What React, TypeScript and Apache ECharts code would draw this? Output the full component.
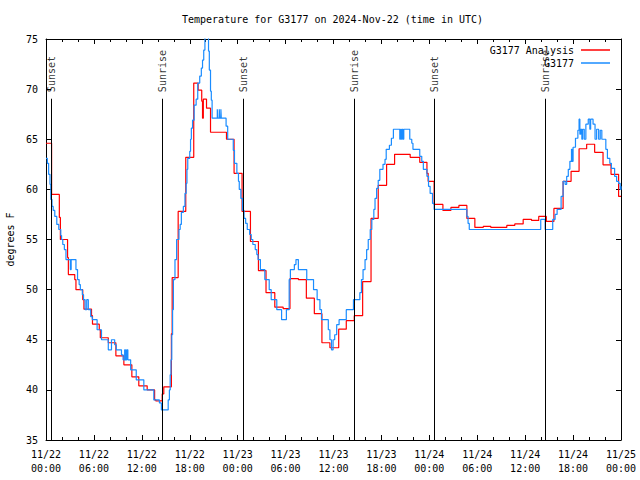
import React, { useEffect, useRef } from "react";
import * as echarts from "echarts";

// hours since 2024-11-22 00:00 UTC, value in degrees F (value holds from that hour)
const analysisSeries: [number, number][] = [
  [0, 64.6], [0.7, 59.5], [1.67, 57.2], [1.8, 55.0], [2.7, 53.2], [2.8, 51.5],
  [3.6, 51.0], [3.75, 50.0], [4.6, 49.0], [4.75, 48.05], [5.7, 47.4], [5.82, 46.55],
  [6.67, 46.0], [6.8, 45.2], [7.8, 44.7], [8.75, 43.4], [9.75, 42.5], [10.75, 41.3],
  [11.62, 40.4], [12.67, 40.0], [13.6, 39.0], [13.75, 38.9], [14.55, 39.6], [14.75, 40.3],
  [15.7, 45.6], [15.8, 51.2], [16.55, 57.8], [17.5, 63.2], [18.5, 70.6], [19.05, 69.9],
  [19.5, 68.8], [19.6, 67.1], [19.7, 69.0], [20.1, 68.1], [20.6, 65.7], [22.6, 65.0],
  [23.55, 61.6], [24.55, 57.8], [25.6, 54.8], [26.6, 51.9], [27.55, 49.7], [28.65, 48.25],
  [29.7, 48.1], [30.55, 51.1], [31.6, 51.0], [32.6, 49.15], [33.6, 47.6], [34.55, 44.7],
  [35.55, 44.2], [36.65, 46.05], [37.6, 46.9], [38.6, 47.4], [39.65, 50.8], [40.7, 57.1],
  [41.6, 60.4], [42.65, 62.5], [43.65, 63.5], [45.6, 63.2], [46.8, 62.7], [47.7, 61.6],
  [47.85, 60.8], [48.6, 58.5], [49.7, 57.9], [50.7, 58.2], [51.7, 58.4], [52.7, 57.1],
  [53.7, 56.2], [54.75, 56.3], [55.7, 56.2], [57.7, 56.4], [58.7, 56.55], [59.75, 57.0],
  [60.8, 56.9], [61.7, 57.3], [62.65, 56.8], [63.6, 58.1], [64.75, 60.8], [65.75, 61.8],
  [66.75, 64.05], [67.7, 64.5], [68.7, 63.7], [69.75, 62.45], [70.75, 61.5], [71.7, 59.3],
  [72, 59.3],
];

const stationSeries: [number, number][] = [
  [0, 63.1], [0.17, 62.6], [0.33, 61.5], [0.5, 60.5], [0.6, 59.0], [0.75, 58.3],
  [0.9, 57.9], [1.1, 57.3], [1.35, 56.5], [1.6, 56.0], [1.85, 55.4], [1.95, 55.0],
  [2.1, 54.5], [2.3, 54.0], [2.5, 53.0], [3.05, 52.0], [3.15, 53.0], [3.75, 52.0],
  [3.95, 51.0], [4.15, 50.5], [4.3, 50.0], [4.55, 49.5], [4.7, 49.0], [4.9, 48.0],
  [5.1, 49.0], [5.3, 48.0], [5.6, 47.3], [5.8, 47.0], [6.4, 46.0], [6.95, 45.0],
  [7.8, 44.0], [8.2, 45.0], [8.6, 44.5], [8.8, 44.0], [9.45, 43.5], [9.65, 43.0],
  [9.85, 44.0], [9.95, 43.0], [10.1, 44.0], [10.25, 43.0], [10.6, 42.0], [11.3, 41.0],
  [12.25, 40.0], [13.5, 39.0], [14.2, 38.7], [14.45, 38.0], [15.3, 39.0], [15.45, 40.0],
  [15.55, 41.5], [15.65, 43.0], [15.75, 45.5], [15.85, 48.0], [15.95, 51.0], [16.15, 53.0],
  [16.35, 55.0], [16.65, 56.0], [16.8, 56.5], [16.95, 57.7], [17.2, 58.3], [17.4, 59.6],
  [17.55, 60.6], [17.65, 62.0], [17.75, 63.1], [18.0, 63.8], [18.1, 65.0], [18.2, 66.1],
  [18.35, 66.9], [18.55, 68.4], [18.8, 69.0], [19.0, 70.6], [19.25, 71.3], [19.45, 72.1],
  [19.6, 72.9], [19.75, 73.9], [19.9, 75.5], [20.35, 73.8], [20.45, 71.9], [20.6, 69.8],
  [20.7, 68.9], [20.8, 67.1], [21.45, 68.0], [21.5, 67.1], [21.7, 68.0], [21.75, 67.1],
  [21.9, 68.0], [21.95, 67.1], [22.55, 66.3], [22.75, 65.0], [23.45, 63.9], [23.6, 62.6],
  [23.9, 61.6], [24.1, 60.8], [24.2, 60.0], [24.4, 59.1], [24.6, 57.9], [24.8, 57.1],
  [25.0, 56.6], [25.2, 56.0], [25.5, 55.5], [25.7, 55.0], [25.9, 54.5], [26.2, 54.0],
  [26.4, 53.5], [26.55, 53.0], [26.85, 52.0], [27.4, 51.0], [27.95, 50.0], [28.2, 49.0],
  [28.9, 48.0], [29.5, 47.0], [30.1, 48.0], [30.45, 51.0], [30.6, 52.0], [31.1, 52.5],
  [31.3, 53.0], [31.6, 52.0], [32.65, 51.0], [33.5, 50.0], [33.95, 49.0], [34.3, 48.0],
  [34.5, 47.0], [35.35, 46.0], [35.55, 45.0], [35.75, 44.0], [35.95, 45.0], [36.15, 45.5],
  [36.4, 46.5], [36.7, 47.0], [37.6, 48.0], [38.5, 49.0], [39.3, 49.7], [39.5, 51.0],
  [39.7, 52.0], [39.95, 53.0], [40.15, 54.0], [40.35, 55.0], [40.6, 56.0], [40.8, 57.0],
  [41.05, 58.0], [41.2, 59.1], [41.4, 60.1], [41.6, 60.9], [41.8, 62.0], [42.2, 62.5],
  [42.45, 63.0], [42.6, 64.0], [43.0, 64.4], [43.25, 65.1], [43.5, 66.0], [44.3, 65.0],
  [44.4, 66.0], [44.5, 65.0], [44.6, 66.0], [44.7, 65.0], [44.8, 66.0], [45.55, 65.0],
  [45.8, 64.6], [45.95, 64.0], [46.8, 63.3], [47.05, 62.8], [47.25, 62.0], [47.7, 61.3],
  [47.9, 60.3], [48.1, 59.6], [48.4, 58.6], [48.6, 58.0], [52.7, 57.3], [52.85, 56.6],
  [53.0, 56.0], [61.95, 57.0], [62.5, 56.0], [63.45, 57.0], [63.75, 57.5], [64.0, 58.0],
  [64.5, 59.3], [64.75, 60.8], [65.0, 60.5], [65.2, 61.3], [65.4, 62.0], [65.6, 62.8],
  [65.8, 64.0], [65.9, 62.8], [66.0, 64.2], [66.3, 65.1], [66.6, 65.9], [66.75, 67.0],
  [66.85, 65.5], [66.95, 66.0], [67.1, 65.0], [67.2, 66.0], [67.4, 65.0], [67.6, 66.5],
  [67.9, 67.0], [68.1, 66.0], [68.2, 67.0], [68.5, 66.5], [68.75, 65.0], [68.95, 66.0],
  [69.2, 65.0], [69.4, 65.9], [69.6, 65.0], [70.1, 64.0], [70.3, 63.1], [70.6, 62.6],
  [70.8, 62.1], [71.2, 61.3], [71.45, 60.8], [71.7, 60.6], [71.9, 60.0], [72, 60.3],
];

const sunNames: string[] = ["Sunset", "Sunrise", "Sunset", "Sunrise", "Sunset", "Sunrise"];
const sunHours: number[] = [0.66, 14.56, 24.68, 38.6, 48.6, 62.5];

const seriesNames = ["G3177 Analysis", "G3177"];

const FONT = "DejaVu Sans Mono";
const SUN_LINE_TOP = 69.04;
const SUN_LABEL_BASE = 69.7;

function xLabel(v: number): string {
  const day = 22 + Math.floor(v / 24 + 1e-9);
  const hr = Math.round(v - (day - 22) * 24);
  return `11/${day}\n${String(hr).padStart(2, "0")}:00`;
}

export default function App() {
  const ref = useRef<HTMLDivElement>(null);
  useEffect(() => {
    if (!ref.current) return;
    const chart = echarts.init(ref.current, null, { renderer: "svg" });
    const axisCommon = {
      axisLine: { show: true, onZero: false, lineStyle: { color: "#000", width: 1 } },
      axisTick: { show: true, inside: true, length: 5, lineStyle: { color: "#000", width: 1 } },
      splitLine: { show: false },
    };
    const xCommon = {
      ...axisCommon,
      type: "value",
      min: 0,
      max: 72,
      interval: 6,
      minorTick: { show: true, splitNumber: 3, length: 3, lineStyle: { color: "#000", width: 1 } },
    };
    const yCommon = { ...axisCommon, type: "value", min: 35, max: 75, interval: 5 };
    const legendCommon = {
      right: 30,
      padding: 0,
      align: "right",
      icon: "rect",
      itemWidth: 29,
      itemHeight: 1.5,
      itemGap: 0,
      selectedMode: false,
      textStyle: { fontFamily: FONT, fontSize: 10, color: "#000", padding: [0, 2, 0, 0] },
    };
    const option: any = {
      animation: false,
      backgroundColor: "#fff",
      title: {
        text: "Temperature for G3177 on 2024-Nov-22 (time in UTC)",
        left: 182,
        top: 14,
        padding: 0,
        textStyle: { fontFamily: FONT, fontSize: 10, fontWeight: "normal", color: "#000" },
      },
      legend: [
        { ...legendCommon, data: [seriesNames[0]], top: 45 },
        { ...legendCommon, data: [seriesNames[1]], top: 58 },
      ],
      grid: { left: 46, right: 19, top: 39, bottom: 40, containLabel: false, outerBoundsMode: "none" },
      xAxis: [
        {
          ...xCommon,
          position: "bottom",
          axisLabel: {
            formatter: xLabel,
            fontFamily: FONT,
            fontSize: 10,
            color: "#000",
            margin: 7,
            lineHeight: 14,
          },
        },
        { ...xCommon, position: "top", axisLabel: { show: false } },
      ],
      yAxis: [
        {
          ...yCommon,
          position: "left",
          name: "degrees F",
          nameLocation: "middle",
          nameGap: 30,
          nameTextStyle: { fontFamily: FONT, fontSize: 10, color: "#000" },
          axisLabel: { fontFamily: FONT, fontSize: 10, color: "#000", margin: 8 },
        },
        { ...yCommon, position: "right", axisLabel: { show: false } },
      ],
      series: [
        {
          name: "sun",
          type: "scatter",
          xAxisIndex: 0,
          yAxisIndex: 0,
          symbolSize: 1,
          silent: true,
          itemStyle: { color: "rgba(0,0,0,0)" },
          data: sunHours.map((h, i) => ({ value: [h, SUN_LABEL_BASE], name: sunNames[i] })),
          label: {
            show: true,
            formatter: "{b}",
            position: "inside",
            rotate: 90,
            align: "left",
            verticalAlign: "middle",
            fontFamily: FONT,
            fontSize: 10,
            color: "#000",
          },
          markLine: {
            silent: true,
            symbol: "none",
            label: { show: false },
            lineStyle: { color: "#000", type: "solid", width: 1 },
            data: sunHours.map((h) => [{ coord: [h, 35] }, { coord: [h, SUN_LINE_TOP] }]),
          },
        },
        {
          name: seriesNames[0],
          type: "line",
          step: "end",
          symbol: "none",
          color: "#ff0000",
          lineStyle: { color: "#ff0000", width: 1.2 },
          data: analysisSeries,
        },
        {
          name: seriesNames[1],
          type: "line",
          step: "end",
          symbol: "none",
          color: "#1a8cff",
          lineStyle: { color: "#1a8cff", width: 1.2 },
          data: stationSeries,
        },
      ],
    };
    chart.setOption(option);
    return () => chart.dispose();
  }, []);
  return (
    <div
      ref={ref}
      style={{ position: "fixed", left: 0, top: 0, width: 640, height: 480, background: "#fff" }}
    />
  );
}
